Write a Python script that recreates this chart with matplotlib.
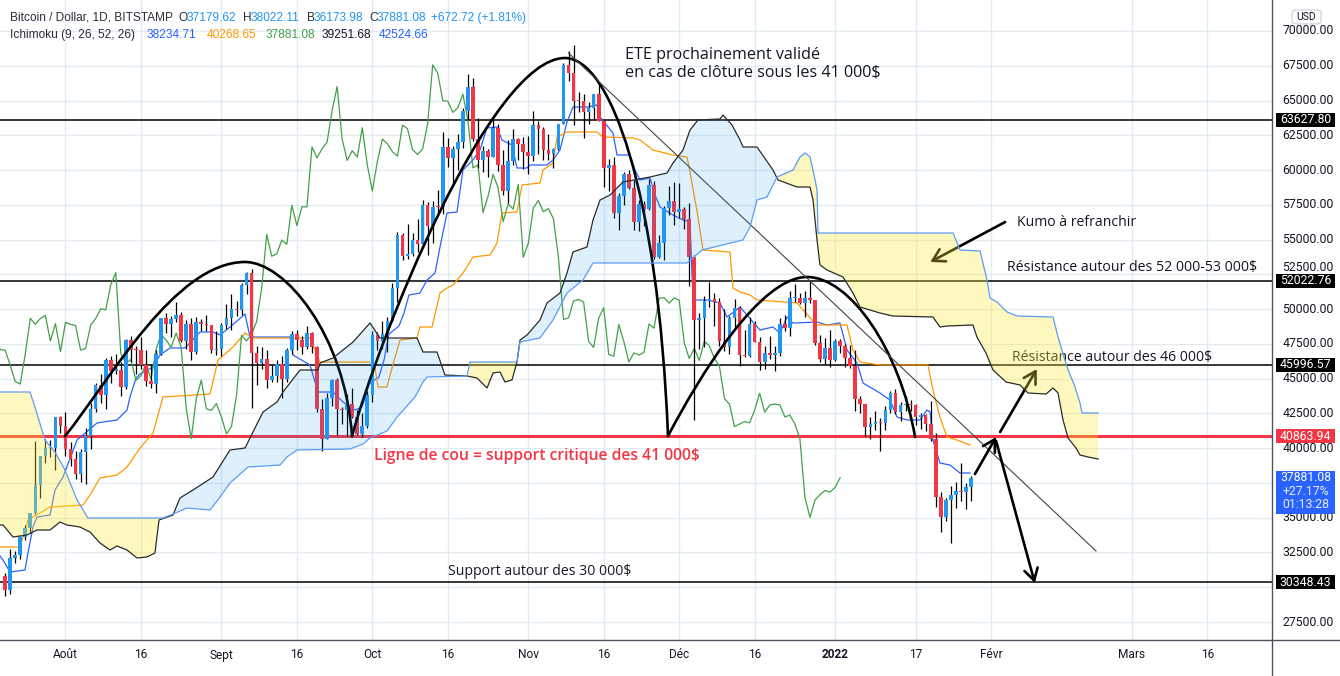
import numpy as np
import matplotlib
matplotlib.use("Agg")
import matplotlib.pyplot as plt
from matplotlib.patches import Rectangle, FancyArrowPatch, PathPatch, Polygon, FancyBboxPatch
from matplotlib.path import Path
from matplotlib.lines import Line2D
from matplotlib.transforms import blended_transform_factory

# ---------------------------------------------------------------- data
# x unit = days counted from 2021-08-01 ; first candle = 2021-07-20
first_candle_day = -12

candle_open = [
    30839, 29796, 32110, 32313, 33581, 34292, 35350, 37337, 39406, 39995, 40008, 42235,
    41626, 39974, 39201, 38152, 39747, 40869, 42816, 44555, 43798, 46365, 45585, 45593, 44428, 47793, 47096,
    47047, 45987, 44802, 44613, 46760, 49339, 48905, 49322, 49546, 47706, 48960, 46942, 49058, 48902, 48830, 47054,
    47166, 48847, 49327, 50025, 49944, 51753, 52633, 46811, 46091, 46391, 44883, 45201, 46063, 44963, 47092,
    48177, 47783, 47267, 48279, 47260, 42843, 40694, 43574, 44895, 42839, 42717, 43208, 42236, 41034, 41564,
    43790, 48116, 47711, 48200, 49112, 51514, 55361, 53805, 53967, 54968, 54659, 57471, 56005, 57367, 57347,
    61672, 60875, 61528, 62009, 64280, 66002, 62210, 60692, 61393, 60930, 63039, 60363, 58482, 60622, 62227, 61888,
    61318, 61004, 63227, 62970, 61452, 61125, 61527, 63326, 67566, 66971, 64995, 64949, 64155, 64469, 65466,
    63557, 60161, 60368, 56942, 58119, 59697, 58730, 56290, 57569, 57195, 58960, 53726, 54721, 57274, 57806,
    57005, 57229, 56508, 53714, 49253, 49368, 50582, 50700, 50504, 47672, 47243, 49362, 50098, 46737, 46613,
    48896, 47665, 46202, 46848, 46707, 46880, 48936, 48628, 50784, 50822, 50429, 50809, 50640, 47588, 46444, 47178,
    46306, 47686, 47345, 46458, 45897, 43569, 43160, 41558, 41734, 41912, 41822, 42736, 43949, 42592, 43099,
    43177, 43113, 42250, 42375, 41744, 40680, 36457, 35030, 36276, 36654, 36954, 36852, 37179.62]
candle_high = [
    31006, 32752, 32576, 33650, 34490, 35364, 40545, 39460, 40640, 40593, 42236, 42305,
    42599, 40446, 39772, 39952, 41420, 43271, 44690, 45310, 46456, 46665, 46743, 46218, 47887, 48098, 47362,
    47998, 47060, 46031, 47030, 49380, 49757, 49506, 50482, 49802, 49202, 49342, 49406, 49309, 49564, 48873, 48436,
    48969, 50344, 51054, 50558, 51868, 52700, 52853, 47334, 47261, 47031, 45970, 46364, 46598, 47219, 48450,
    48486, 48090, 48813, 48343, 47337, 43547, 44000, 44978, 45080, 42996, 43919, 44313, 42775, 42541, 44092,
    48436, 48336, 49130, 49456, 51887, 55568, 55450, 56115, 55474, 56477, 57839, 57680, 57804, 58532, 62757,
    62274, 61720, 62614, 64434, 66930, 66600, 63715, 61743, 61491, 63729, 63294, 61435, 62128, 62927, 62275, 62406,
    62419, 64242, 63516, 63103, 62599, 61590, 63330, 67673, 68531, 68990, 65579, 65460, 64915, 65495, 66281,
    63600, 60823, 60948, 58367, 59859, 60004, 59266, 57875, 57803, 59367, 59183, 55329, 57393, 58872, 59113,
    59041, 57376, 57600, 53904, 49700, 50929, 51934, 51171, 50797, 50015, 49485, 50724, 50205, 48475, 49425,
    49113, 47995, 47313, 48098, 47358, 49328, 49564, 51332, 51810, 51156, 51281, 52088, 50679, 48119, 47901, 48472,
    47827, 47881, 47510, 47406, 47070, 43748, 43200, 42228, 42663, 42199, 43001, 44135, 44278, 43346, 43724,
    43436, 43179, 42534, 42478, 43413, 41100, 36835, 36433, 37247, 37545, 38919, 37530, 38022.11]
candle_low = [
    29360, 29482, 31745, 32057, 33402, 33881, 35287, 36441, 38951, 39352, 38397, 41064,
    39423, 38690, 37782, 37589, 37458, 39932, 42618, 43261, 42848, 44689, 45341, 43770, 44262, 46177, 45362,
    45678, 44451, 44316, 43998, 46691, 48285, 48003, 49074, 47640, 47134, 46371, 46783, 48421, 48450, 46864, 46737,
    46598, 48584, 48499, 49538, 49544, 51053, 42874, 44561, 45669, 44344, 44771, 44791, 43591, 44752, 46773,
    47079, 46750, 47119, 46877, 42596, 39787, 40625, 43069, 40936, 41759, 40848, 42190, 40931, 40829, 41444,
    43320, 47093, 47133, 46937, 49073, 50488, 53525, 53633, 53813, 54111, 54416, 53879, 54740, 56818, 56869,
    60206, 58963, 60013, 61622, 63610, 62117, 60122, 59826, 59531, 60907, 59932, 58208, 57627, 60329, 60723, 60074,
    59695, 60673, 61184, 60743, 60722, 60163, 61432, 63300, 66382, 63208, 64180, 62333, 63303, 63647, 63548,
    58802, 58515, 56550, 55705, 57469, 58618, 55679, 55632, 55964, 57146, 53569, 53668, 53548, 56792, 56057,
    56553, 55777, 51680, 42000, 47100, 47281, 50175, 48765, 47358, 47023, 46751, 48725, 45894, 46547, 46550,
    47633, 45598, 45668, 46420, 45579, 46630, 48450, 48049, 50514, 50361, 49412, 50449, 47414, 46201, 46060, 45819,
    46288, 46856, 45835, 45752, 42645, 42500, 40900, 40672, 41338, 39796, 41329, 42528, 42447, 41982, 42670,
    42691, 41680, 41392, 41242, 40550, 35791, 34009, 34785, 33185, 35705, 36234, 35629, 36173.98]
candle_close = [
    29796, 32110, 32313, 33581, 34292, 35350, 37337, 39406, 39995, 40008, 42235, 41626,
    39974, 39201, 38152, 39747, 40869, 42816, 44555, 43798, 46365, 45585, 45593, 44428, 47793, 47096, 47047,
    45987, 44802, 44613, 46760, 49339, 48905, 49322, 49546, 47706, 48960, 46942, 49058, 48902, 48830, 47054, 47166,
    48847, 49327, 50025, 49944, 51753, 52633, 46811, 46091, 46391, 44883, 45201, 46063, 44963, 47092, 48177,
    47783, 47267, 48279, 47260, 42843, 40694, 43574, 44895, 42839, 42717, 43208, 42236, 41034, 41564, 43790,
    48116, 47711, 48200, 49112, 51514, 55361, 53805, 53967, 54968, 54659, 57471, 56005, 57367, 57347, 61672,
    60875, 61528, 62009, 64280, 66002, 62210, 60692, 61393, 60930, 63039, 60363, 58482, 60622, 62227, 61888, 61318,
    61004, 63227, 62970, 61452, 61125, 61527, 63326, 67566, 66971, 64995, 64949, 64155, 64469, 65466, 63557,
    60161, 60368, 56942, 58119, 59697, 58730, 56290, 57569, 57195, 58960, 53726, 54721, 57274, 57806, 57005,
    57229, 56508, 53714, 49253, 49368, 50582, 50700, 50504, 47672, 47243, 49362, 50098, 46737, 46613, 48896,
    47665, 46202, 46848, 46707, 46880, 48936, 48628, 50784, 50822, 50429, 50809, 50640, 47588, 46444, 47178, 46306,
    47686, 47345, 46458, 45897, 43569, 43160, 41558, 41734, 41912, 41822, 42736, 43949, 42592, 43099, 43177,
    43113, 42250, 42375, 41744, 40680, 36457, 35030, 36276, 36654, 36954, 36852, 37179, 37881.08]

chikou_shift = 26

tenkan_day = [-13.02, -12.43, -11.03, -8.05, -7.46, -6.46, -5.67, -3.08, -2.09, -0.50, 2.29, 6.26, 7.46, 10.24,
              12.23, 12.82, 14.02, 14.81, 17.40, 18.79, 20.77, 23.76, 26.74, 29.32, 30.72, 32.70, 35.69, 36.68,
              44.63, 45.23, 48.61, 50.20, 53.18, 55.17, 57.55, 58.94, 59.54, 60.34, 62.32, 63.32, 64.31, 66.30,
              67.29, 68.28, 70.47, 71.87, 73.46, 74.45, 75.84, 77.83, 79.02, 81.01, 82.40, 83.79, 85.78, 86.77,
              88.76, 89.76, 91.75, 92.34, 95.72, 96.92, 98.31, 99.70, 100.89, 103.67, 105.66, 106.26, 108.84,
              109.64, 112.22, 113.22, 114.21, 116.20, 117.20, 118.19, 120.77, 122.76, 124.15, 124.75, 127.53,
              130.11, 131.50, 134.09, 138.06, 140.65, 142.04, 143.43, 144.63, 149.40, 151.38, 153.97, 155.36,
              157.35, 158.54, 161.92, 163.91, 165.30, 167.29, 169.87, 171.26, 171.86, 172.45, 173.84, 175.83,
              177.82, 179.81]
tenkan_val = [32247, 31960, 31097, 31241, 32463, 34333, 35052, 35195, 36993, 37928, 40588, 41811, 41883, 42027,
              42746, 43681, 45047, 45335, 45838, 46701, 47205, 47205, 48355, 48355, 48139, 48714, 49649, 47995,
              47995, 46701, 45982, 44040, 44040, 43321, 42746, 42962, 43609, 44616, 45119, 46341, 48211, 48786,
              49721, 51016, 51160, 52094, 52598, 54468, 56912, 56984, 60009, 60723, 61443, 63025, 63097, 62162,
              61802, 60148, 60148, 60364, 60364, 60723, 61443, 63456, 64535, 64535, 64679, 63816, 62665,
              61083, 61083, 60005, 59285, 59429, 58206, 57343, 56768, 56409, 56265, 50656, 50656,
              50440, 49433, 50152, 48498, 48714, 48283, 49433, 48998, 49074, 48858, 49002, 47061,
              46126, 44688, 43969, 43465, 42243, 42027, 42027, 42746, 42602, 40588, 38934, 38790,
              38215, 38215]

kijun_day = [-13.02, -9.05, -7.46, -6.46, -3.08, 3.48, 4.87, 6.86, 10.24, 12.23, 14.81, 17.40, 19.38, 28.73,
             30.32, 33.30, 35.69, 37.28, 48.61, 50.60, 60.93, 61.53, 62.12, 63.91, 64.91, 66.50, 69.88, 70.47,
             72.86, 74.45, 75.84, 77.04, 79.02, 81.01, 84.39, 85.78, 86.77, 89.76, 90.75, 94.33, 94.93, 96.92,
             97.71, 99.70, 105.66, 106.86, 112.82, 114.21, 116.79, 120.77, 123.55, 124.15, 125.74, 126.73,
             132.10, 132.70, 134.09, 136.08, 137.47, 145.42, 148.41, 149.40, 155.36, 156.55, 157.94, 161.92,
             171.46, 172.45, 173.84, 175.23, 177.22, 179.81]
kijun_val = [32895, 32895, 34836, 35052, 35770, 35914, 36633, 37856, 38072, 38647, 40013, 41092, 43681, 43897,
             46341, 47277, 48283, 47924, 47924, 46198, 46198, 45767, 44400, 44400, 45767, 47778, 47924, 48714,
             48714, 51160, 51519, 51735, 52598, 53749, 53892, 54755, 56912, 56984, 58926, 59069, 60005, 60508,
             62378, 62737, 62737, 62378, 62306, 62162, 61443, 61083, 60939, 59860, 56624, 54252,
             54108, 51519, 51232, 51016, 50656, 50440, 49218, 48858, 48858, 47061, 46198, 45982,
             45982, 44184, 42243, 40804, 40588, 40229]

span_a_day = [-13.02, -12.42, -10.44, -7.65, -5.67, -3.08, -1.09, 0.30, 2.88, 4.87, 6.86, 8.85, 10.24, 12.23,
              14.21, 16.20, 17.79, 18.59, 21.37, 22.76, 25.35, 29.32, 32.70, 35.69, 39.26, 42.05, 43.24, 46.62,
              50.20, 50.60, 53.18, 57.16, 60.54, 62.52, 69.88, 71.07, 73.85, 75.44, 79.82, 81.81, 83.80, 84.99,
              86.38, 87.37, 88.76, 89.76, 90.36, 91.75, 94.33, 95.72, 98.31, 99.70, 100.89, 103.67, 104.87,
              106.26, 108.25, 110.83, 116.20, 119.58, 120.77, 122.76, 124.15, 125.74, 130.11, 130.71, 132.50,
              134.09, 134.69, 137.47, 140.65, 141.65, 145.42, 148.01, 148.61, 149.40, 149.99, 151.38, 154.56,
              156.55, 157.94, 161.92, 164.50, 172.45, 173.84, 175.23, 180.40, 181.19, 182.99, 184.39, 186.98,
              189.76, 191.35, 194.93, 196.32, 197.31, 198.31, 199.30, 200.89, 201.68, 203.27, 205.3]
span_a_val = [34476, 34476, 33614, 33757, 34117, 34117, 34692, 34476, 34332, 33973, 33182, 32679, 32966, 32679,
              32104, 32175, 32463, 34836, 35195, 36418, 36993, 37928, 39870, 40013, 42602, 43321, 44040, 45622,
              45622, 46126, 46485, 47636, 49002, 47924, 47924, 46917, 46917, 45263, 45191, 45047, 44328, 45407,
              45479, 44760, 44903, 46198, 47780, 48139, 49218, 50440, 51160, 52598, 54108, 54468, 56409,
              57847, 58207, 59142, 59501, 59789, 60508, 61443, 62881, 63600, 63672, 63960, 63240,
              62162, 61658, 61658, 60005, 59285, 58782, 58782, 57847, 54971, 53173, 52814, 52310,
              51160, 50152, 49721, 49505, 49433, 48714, 48786, 48858, 47995, 46844, 45622, 44759,
              44544, 43969, 43897, 44328, 43969, 42027, 40733, 40013, 39510, 39366, 39222]

span_b_day = [-13.02, -7.06, -6.26, -4.08, -2.09, -0.10, 2.29, 4.47, 19.38, 21.37, 24.15, 28.73, 30.72, 32.70,
              36.28, 42.64, 44.03, 46.02, 56.56, 59.14, 60.54, 63.92, 65.91, 67.89, 69.48, 71.07, 71.87, 79.82,
              80.42, 89.76, 90.36, 94.33, 96.92, 99.70, 102.88, 104.87, 123.55, 126.54, 134.69, 136.08, 137.47,
              139.46, 141.45, 144.63, 146.02, 147.01, 148.01, 148.61, 149.40, 149.60, 176.44, 177.83, 181.81,
              183.20, 183.80, 185.19, 187.18, 189.16, 196.32, 197.31, 199.10, 200.69, 201.68, 202.08, 205.3]
span_b_val = [44040, 44040, 43177, 40588, 39725, 38431, 36274, 34979, 34979, 35266, 35698, 35554, 36489, 37496,
              38646, 38790, 39365, 39870, 39942, 40301, 40733, 41236, 42243, 43034, 43681, 44760, 45120, 45191,
              46198, 46198, 47636, 47924, 49218, 51160, 52094, 53317, 53317, 54252, 54971, 55906, 57847,
              58063, 59501, 60005, 60939, 61227, 60939, 60005, 58566, 55474, 55474, 54252, 54180,
              52094, 50800, 50512, 49793, 49505, 49433, 47995, 45838, 44400, 43249, 42530, 42530]

tick_days = [0, 15, 31, 46, 61, 76, 92, 107, 122, 137, 153, 169, 184, 212, 227]
tick_labels = ["Août", "16", "Sept", "16", "Oct", "16", "Nov", "16", "Déc", "16", "2022", "17",
               "Févr", "Mars", "16"]
price_ticks = [27500, 30000, 32500, 35000, 37500, 40000, 42500, 45000, 47500, 50000, 52500, 55000,
               57500, 60000, 62500, 65000, 67500, 70000]
# tick labels hidden behind the axis price tags in the reference
hidden_price_labels = [30000, 37500]

level_lines = [63627.80, 52022.76, 45996.57, 30348.43]
neckline = 40863.94
last_close = 37881.08

# drawings (day, price) : head & shoulders arcs as cubic Bezier control points
shoulder_l_day = [-0.10, 8.85, 21.77, 35.69, 43.64, 55.57, 56.96]
shoulder_l_val = [40860, 44903, 53389, 53389, 53389, 48139, 40860]
head_day = [56.96, 62.12, 84.39, 99.30, 108.25, 117.79, 119.78]
head_val = [40860, 47780, 68058, 68058, 68058, 58566, 40876]
shoulder_r_day = [119.78, 126.14, 138.07, 147.41, 155.96, 165.90, 168.89]
shoulder_r_val = [40876, 45263, 52310, 52310, 52310, 47061, 40805]
trend_day = [100.0, 204.86]
trend_val = [68418, 32607]
arrows = [((180.8, 38143), (185.0, 40804)),
          ((185.8, 41163), (193.1, 45694)),
          ((185.0, 40517), (192.7, 30305)),
          ((186.8, 56265), (171.9, 53388))]

# ---------------------------------------------------------------- style
UP = "#2196F3"
DN = "#F23645"
RED = "#F23645"
TXT = "#131722"
GRID = "#E3EBF2"
AXC = "#50535E"

W, H = 1340, 676
fig = plt.figure(figsize=(W / 100, H / 100), dpi=100)
fig.patch.set_facecolor("white")
ax = fig.add_axes([0, 36 / H, 1272 / W, 640 / H])
ax.set_xlim(-13.02, 239.85)
ax.set_ylim(26207, 72229)
for s in ax.spines.values():
    s.set_visible(False)
ax.set_xticks([])
ax.set_yticks([])

# grid
for p in price_ticks:
    ax.axhline(p, color=GRID, lw=1.0, zorder=0)
for d in tick_days:
    ax.axvline(d, color=GRID, lw=1.0, zorder=0)

# horizontal levels
for lv in level_lines:
    ax.axhline(lv, color="black", lw=1.1, zorder=2)
ax.axhline(neckline, color=RED, lw=2.2, zorder=2)

# Ichimoku lines
ax.plot(tenkan_day, tenkan_val, color="#2962FF", lw=0.9, zorder=3)
ax.plot(kijun_day, kijun_val, color="#FF9800", lw=0.9, zorder=3)
cdays = first_candle_day + np.arange(len(candle_close))
ax.plot(cdays - chikou_shift, candle_close, color="#43A047", lw=0.9, zorder=3)
ax.plot(span_a_day, span_a_val, color="#2B2B2B", lw=0.9, zorder=7)
ax.plot(span_b_day, span_b_val, color="#5B9CF6", lw=0.9, zorder=7)

# cloud fills (clip between the two spans)
lo, hi = 10000, 90000
a_pts = list(zip(span_a_day, span_a_val))
b_pts = list(zip(span_b_day, span_b_val))
x0, x1 = span_a_day[0], span_a_day[-1]
above_a = Path(a_pts + [(x1, hi), (x0, hi)] + [a_pts[0]], closed=False)
below_a = a_pts + [(x1, lo), (x0, lo)]
above_b = Path(b_pts + [(x1, hi), (x0, hi)] + [b_pts[0]], closed=False)
below_b = b_pts + [(x1, lo), (x0, lo)]
yel = Polygon(below_b, closed=True, fc="#FFEB3B", alpha=0.33, lw=0, zorder=6)
ax.add_patch(yel)
yel.set_clip_path(above_a, ax.transData)
blu = Polygon(below_a, closed=True, fc="#2196F3", alpha=0.14, lw=0, zorder=6)
ax.add_patch(blu)
blu.set_clip_path(above_b, ax.transData)

# candles
o = np.array(candle_open)
c = np.array(candle_close)
hh = np.array(candle_high)
ll = np.array(candle_low)
up = c >= o
ax.vlines(cdays, ll, hh, color="black", lw=0.9, zorder=4)
ax.bar(cdays, np.maximum(np.abs(c - o), 80), bottom=np.minimum(o, c), width=0.72,
       color=np.where(up, UP, DN), lw=0, zorder=5)

# head & shoulders drawing
codes = [Path.MOVETO] + [Path.CURVE4] * 6
for dd, vv in [(shoulder_l_day, shoulder_l_val), (head_day, head_val), (shoulder_r_day, shoulder_r_val)]:
    ax.add_patch(PathPatch(Path(list(zip(dd, vv)), codes), fill=False, ec="black", lw=1.9,
                           zorder=5, capstyle="round"))
ax.plot(trend_day, trend_val, color="#444444", lw=0.8, zorder=5)
for (p0, p1) in arrows:
    ax.add_patch(FancyArrowPatch(p0, p1, arrowstyle="->,head_length=0.6,head_width=0.35",
                                 mutation_scale=14, lw=1.9, color="black", zorder=5,
                                 shrinkA=0, shrinkB=0))

# annotation texts
ann_font = "Open Sans"
ax.text(111.2, 68274, "ETE prochainement validé", fontsize=11.6, family=ann_font, color=TXT,
        va="center", ha="left", zorder=5)
ax.text(111.2, 67051, "en cas de clôture sous les 41 000$", fontsize=11.6, family=ann_font, color=TXT,
        va="center", ha="left", zorder=5)
ax.text(189.2, 56265, "Kumo à refranchir", fontsize=10.1, family=ann_font, color=TXT,
        va="center", ha="left", zorder=5)
ax.text(187.2, 53029, "Résistance autour des 52 000-53 000$", fontsize=10.2, family=ann_font, color=TXT,
        va="center", ha="left", zorder=5)
ax.text(188.2, 46557, "Résistance autour des 46 000$", fontsize=10.1, family=ann_font, color=TXT,
        va="center", ha="left", zorder=5)
ax.text(61.3, 39439, "Ligne de cou = support critique des 41 000$", fontsize=11.3, family=ann_font,
        color=RED, va="center", ha="left", zorder=5, fontweight="semibold")
ax.text(76.0, 31097, "Support autour des 30 000$", fontsize=10.1, family=ann_font, color=TXT,
        va="center", ha="left", zorder=5)

# ---------------------------------------------------------------- price axis
ax_font = "Roboto"
AX_FS = 8.8
tr = blended_transform_factory(ax.transAxes, ax.transData)
for p in price_ticks:
    if p in hidden_price_labels:
        continue
    yp = p + 480 if p == 52500 else p   # nudged just above the 52022.76 tag
    ax.text(1308 / 1272, yp, f"{p:.2f}", transform=tr, fontsize=AX_FS, family=ax_font, color=TXT,
            ha="center", va="center", clip_on=False, zorder=10)
bx0, bw = 1276 / 1272, 59 / 1272
for lv in level_lines:
    ax.add_patch(Rectangle((bx0, lv - 500), bw, 1000, transform=tr, fc="black", ec="none",
                           clip_on=False, zorder=11))
    ax.text(1305.5 / 1272, lv, f"{lv:.2f}", transform=tr, fontsize=AX_FS, family=ax_font, color="white",
            ha="center", va="center", clip_on=False, zorder=12)
ax.add_patch(Rectangle((bx0, neckline - 500), bw, 1000, transform=tr, fc=RED, ec="none",
                       clip_on=False, zorder=11))
ax.text(1305.5 / 1272, neckline, f"{neckline:.2f}", transform=tr, fontsize=AX_FS, family=ax_font,
        color="white", ha="center", va="center", clip_on=False, zorder=12)
ax.add_patch(Rectangle((bx0, 35267), bw, 38359 - 35267, transform=tr, fc="#2962FF", ec="none",
                       clip_on=False, zorder=11))
ax.text(1305.5 / 1272, last_close, f"{last_close:.2f}", transform=tr, fontsize=AX_FS, family=ax_font,
        color="white", ha="center", va="center", clip_on=False, zorder=12)
ax.text(1305.5 / 1272, 36884, "+27.17%", transform=tr, fontsize=AX_FS, family=ax_font,
        color="#E8EEFF", ha="center", va="center", clip_on=False, zorder=12)
ax.text(1305.5 / 1272, 35915, "01:13:28", transform=tr, fontsize=AX_FS, family=ax_font,
        color="#E8EEFF", ha="center", va="center", clip_on=False, zorder=12)

# time axis labels
trx = blended_transform_factory(ax.transData, ax.transAxes)
for d, lab in zip(tick_days, tick_labels):
    ax.text(d, -15 / 640, lab, transform=trx, fontsize=8.6, family=ax_font, color=TXT,
            ha="center", va="center", clip_on=False,
            fontweight="bold" if lab == "2022" else "normal")

# axis frame lines
fig.add_artist(Line2D([0, 1], [36 / H, 36 / H], transform=fig.transFigure, color=AXC, lw=1.0))
fig.add_artist(Line2D([1272 / W, 1272 / W], [0, 1], transform=fig.transFigure, color=AXC, lw=1.0))

# USD box
fig.add_artist(FancyBboxPatch((1292 / W, 1 - 24 / H), 29 / W, 14 / H, transform=fig.transFigure,
                              boxstyle="round,pad=0,rounding_size=0.004", fc="white", ec="#C9CCD3", lw=0.8))
fig.text(1306.5 / W, 1 - 17 / H, "USD", fontsize=7.5, family=ax_font, color=TXT, ha="center", va="center")

# header legend
hdr = "Liberation Sans"
def ftxt(px, py, s, col, size=8.6):
    fig.text(px / W, 1 - py / H, s, fontsize=size, family=hdr, color=col, ha="left", va="center")

ftxt(10, 18, "Bitcoin / Dollar, 1D, BITSTAMP", "#2A2E39")
ftxt(178, 18, "O", "#2A2E39")
ftxt(187, 18, "37179.62", UP)
ftxt(243, 18, "H", "#2A2E39")
ftxt(251, 18, "38022.11", UP)
ftxt(307, 18, "B", "#2A2E39")
ftxt(314, 18, "36173.98", UP)
ftxt(369, 18, "C", "#2A2E39")
ftxt(377, 18, "37881.08", UP)
ftxt(431, 18, "+672.72 (+1.81%)", UP)
ftxt(10, 35, "Ichimoku (9, 26, 52, 26)", "#2A2E39")
ftxt(147, 35, "38234.71", "#2962FF")
ftxt(207, 35, "40268.65", "#FF9800")
ftxt(266, 35, "37881.08", "#43A047")
ftxt(322, 35, "39251.68", "#131722")
ftxt(379, 35, "42524.66", "#2962FF")

fig.savefig("out.png", dpi=100)
